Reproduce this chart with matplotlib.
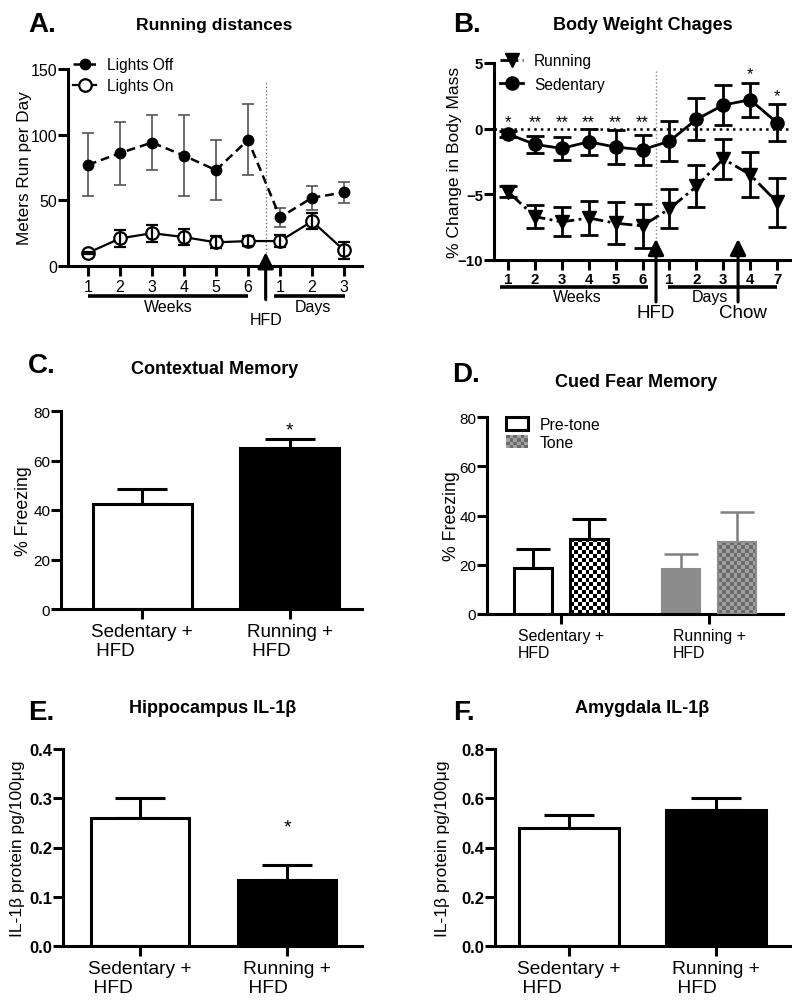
import numpy as np
import matplotlib
matplotlib.use("Agg")
import matplotlib.pyplot as plt
from matplotlib.colors import ListedColormap
from matplotlib.patches import Rectangle, Patch
from matplotlib.legend_handler import HandlerBase

plt.rcParams["font.family"] = ["Liberation Sans", "DejaVu Sans"]

# A. running distances (weeks 1-6, then days 1-3 on HFD)
a_labels = ["1", "2", "3", "4", "5", "6", "1", "2", "3"]
off_mean = [77, 86, 94, 84, 73, 96, 37, 52, 56]
off_err = [24, 24, 21, 31, 23, 27, 7, 9, 8]
on_mean = [10, 21, 25, 22, 18, 19, 19, 34, 12]
on_err = [1, 6.5, 6.5, 6, 4.5, 3.5, 4.5, 6, 6.5]

# B. body weight changes
b_labels = ["1", "2", "3", "4", "5", "6", "1", "2", "3", "4", "7"]
sed_mean = [-0.4, -1.2, -1.5, -1.0, -1.4, -1.6, -0.95, 0.7, 1.8, 2.2, 0.45]
sed_err = [0.2, 0.65, 0.85, 1.0, 1.3, 1.15, 1.5, 1.6, 1.5, 1.3, 1.4]
run_mean = [-4.8, -6.7, -7.1, -6.8, -7.2, -7.4, -6.1, -4.4, -2.3, -3.5, -5.6]
run_err = [0.4, 0.9, 1.1, 1.3, 1.6, 1.7, 1.5, 1.6, 1.5, 1.7, 1.85]
b_stars = ["*", "**", "**", "**", "**", "**", "", "", "", "*", "*"]

groups = ["Sedentary +\n HFD", "Running +\n HFD"]

# C. contextual memory
c_mean = [42.5, 65.0]
c_err = [6.0, 3.5]

# D. cued fear memory
d_groups = ["Sedentary +\nHFD", "Running +\nHFD"]
pre_mean = [18.5, 18.3]
pre_err = [7.9, 6.1]
tone_mean = [30.5, 29.3]
tone_err = [8.1, 12.2]

# E. / F. IL-1b
e_mean = [0.26, 0.135]
e_err = [0.04, 0.029]
f_mean = [0.478, 0.553]
f_err = [0.055, 0.05]

W, H = 800, 1004
fig = plt.figure(figsize=(W / 100, H / 100), dpi=100)


def axes_px(left, top, right, bottom):
    return fig.add_axes([left / W, 1 - bottom / H, (right - left) / W, (bottom - top) / H])


def style(ax, lw=2.2):
    for s in ("top", "right"):
        ax.spines[s].set_visible(False)
    for s in ("left", "bottom"):
        ax.spines[s].set_linewidth(lw)
    ax.tick_params(width=lw, length=7)
    ax.tick_params(axis="y", pad=0.8)
    ax.tick_params(axis="x", pad=2)


def header(letter, lx, lbase, title, tx, tbase, tsize=13):
    fig.text(lx / W, 1 - lbase / H, letter, fontsize=20, fontweight="bold", va="baseline")
    fig.text(tx / W, 1 - tbase / H, title, fontsize=tsize, fontweight="bold",
             ha="center", va="baseline")


def checker_bar(ax, xc, w, h, c1, c2, edge, lw, sq=4):
    x0 = xc - w / 2
    p0 = ax.transData.transform((x0, 0))
    p1 = ax.transData.transform((x0 + w, h))
    nx = max(1, int(round((p1[0] - p0[0]) / sq)))
    ny = max(1, int(round((p1[1] - p0[1]) / sq)))
    grid = np.add.outer(np.arange(ny), np.arange(nx)) % 2
    xl, yl = ax.get_xlim(), ax.get_ylim()
    ax.imshow(grid, cmap=ListedColormap([c1, c2]), extent=(x0, x0 + w, 0, h),
              origin="lower", aspect="auto", interpolation="nearest", zorder=2)
    ax.set_xlim(xl)
    ax.set_ylim(yl)
    ax.bar(xc, h, w, fill=False, edgecolor=edge, linewidth=lw, zorder=3)


class CheckerSwatch:
    def __init__(self, c1, c2):
        self.c1, self.c2 = c1, c2


class CheckerHandler(HandlerBase):
    def create_artists(self, legend, orig_handle, xdescent, ydescent, width, height,
                       fontsize, trans):
        nx, ny = 6, 4
        arts = []
        for i in range(nx):
            for j in range(ny):
                c = orig_handle.c1 if (i + j) % 2 else orig_handle.c2
                arts.append(Rectangle((-xdescent + i * width / nx, -ydescent + j * height / ny),
                                      width / nx, height / ny, facecolor=c,
                                      edgecolor="none", transform=trans))
        return arts


def star(ax, x, y, gap, size=14):
    ax.annotate("*", (x, y), xytext=(0, gap), textcoords="offset points",
                ha="center", va="baseline", fontsize=size)


# ---------------- A ----------------
axA = axes_px(68, 70, 362, 267)
style(axA)
xa = np.arange(len(a_labels))
lo, = axA.plot(xa, off_mean, marker="o", ms=7.5, color="black", ls="--", dashes=(3.5, 2),
               lw=1.8, zorder=3, label="Lights Off")
axA.errorbar(xa, off_mean, yerr=off_err, fmt="none", ecolor="#555555", elinewidth=1.2,
             capsize=4.5, capthick=1.2, zorder=2)
ln, = axA.plot(xa, on_mean, marker="o", ms=9, mfc="white", mec="black", mew=1.6,
               color="black", lw=1.6, zorder=3, label="Lights On")
axA.errorbar(xa, on_mean, yerr=on_err, fmt="none", ecolor="black", elinewidth=1.6,
             capsize=4.5, capthick=1.6, zorder=4)
axA.set_xlim(-0.625, 8.56)
axA.set_ylim(0, 150)
axA.set_yticks([0, 50, 100, 150])
axA.set_xticks(xa)
axA.set_xticklabels(a_labels)
axA.tick_params(labelsize=11.5)
axA.set_ylabel("Meters Run per Day", fontsize=12.3)
axA.yaxis.set_label_coords(-0.122, 0.5)
axA.legend(handles=[lo, ln], loc="upper left", bbox_to_anchor=(0.017, 1.06), frameon=False,
           fontsize=11.2, handlelength=1.5, handletextpad=0.7, labelspacing=0.4,
           borderpad=0, borderaxespad=0)
xt = axA.get_xaxis_transform()
axA.axvline(5.55, ymin=-0.18, ymax=0.934, clip_on=False, color="#777777", ls=":", lw=1)
axA.annotate("", xy=(5.55, 0.07), xycoords=xt, xytext=(5.55, -0.17), textcoords=xt,
             arrowprops=dict(arrowstyle="-|>,head_length=0.6,head_width=0.3", color="black",
                             lw=2.2, shrinkA=0, shrinkB=0, mutation_scale=16),
             annotation_clip=False)
axA.plot([0, 5], [-0.152, -0.152], transform=xt, clip_on=False, color="black", lw=2.6,
         solid_capstyle="butt")
axA.plot([5.81, 8.03], [-0.152, -0.152], transform=xt, clip_on=False, color="black", lw=2.6,
         solid_capstyle="butt")
axA.text(2.5, -0.228, "Weeks", transform=xt, ha="center", va="baseline", fontsize=11.5)
axA.text(7.03, -0.228, "Days", transform=xt, ha="center", va="baseline", fontsize=11.5)
axA.text(5.56, -0.294, "HFD", transform=xt, ha="center", va="baseline", fontsize=11.5)
header("A.", 28, 32, "Running distances", 214, 30, 12.6)

# ---------------- B ----------------
axB = axes_px(494, 64, 790, 261)
style(axB)
xb = np.arange(len(b_labels))
axB.axhline(0, color="black", ls=":", lw=1.8, zorder=1)
axB.axvline(5.5, ymin=0, ymax=0.97, color="#888888", ls=":", lw=1, zorder=1)
rb, = axB.plot(xb, run_mean, marker="v", ms=10, color="black", ls="-.", lw=2, zorder=3,
               label="Running")
axB.errorbar(xb, run_mean, yerr=run_err, fmt="none", ecolor="black", elinewidth=2,
             capsize=6.5, capthick=2, zorder=2)
sb, = axB.plot(xb, sed_mean, marker="o", ms=9.5, color="black", lw=2, zorder=3,
               label="Sedentary")
axB.errorbar(xb, sed_mean, yerr=sed_err, fmt="none", ecolor="black", elinewidth=2,
             capsize=6.5, capthick=2, zorder=2)
axB.set_xlim(-0.52, 10.48)
axB.set_ylim(-10, 5)
axB.set_yticks([-10, -5, 0, 5])
axB.set_xticks(xb)
axB.set_xticklabels(b_labels)
axB.tick_params(labelsize=10.8)
for lab in axB.get_xticklabels() + axB.get_yticklabels():
    lab.set_fontweight("bold")
axB.set_ylabel("% Change in Body Mass", fontsize=12.6)
axB.yaxis.set_label_coords(-0.108, 0.5)
axB.legend(handles=[rb, sb], loc="upper left", bbox_to_anchor=(0.02, 1.05), frameon=False,
           fontsize=11.2, handlelength=1.5, handletextpad=0.7, labelspacing=0.55,
           borderpad=0, borderaxespad=0)
for i, s in enumerate(b_stars):
    if not s:
        continue
    if i < 6:
        axB.annotate(s, (i, 0.2), ha="center", va="baseline", fontsize=12)
    else:
        axB.annotate(s, (i, sed_mean[i] + sed_err[i]), xytext=(0, 3.2),
                     textcoords="offset points", ha="center", va="baseline", fontsize=12)
xt = axB.get_xaxis_transform()
for xv in (5.5, 8.55):
    axB.annotate("", xy=(xv, 0.107), xycoords=xt, xytext=(xv, -0.213), textcoords=xt,
                 arrowprops=dict(arrowstyle="-|>,head_length=0.6,head_width=0.3",
                                 color="black", lw=2.2, shrinkA=0, shrinkB=0,
                                 mutation_scale=16),
                 annotation_clip=False, zorder=5)
axB.plot([-0.3, 5.2], [-0.137, -0.137], transform=xt, clip_on=False, color="black", lw=2.6,
         solid_capstyle="butt")
axB.plot([5.95, 10.0], [-0.137, -0.137], transform=xt, clip_on=False, color="black", lw=2.6,
         solid_capstyle="butt")
axB.text(2.56, -0.21, "Weeks", transform=xt, ha="center", va="baseline", fontsize=11.5)
axB.text(7.5, -0.21, "Days", transform=xt, ha="center", va="baseline", fontsize=11.5)
axB.text(5.5, -0.29, "HFD", transform=xt, ha="center", va="baseline", fontsize=13.5)
axB.text(8.74, -0.29, "Chow", transform=xt, ha="center", va="baseline", fontsize=13.5)
header("B.", 453, 32, "Body Weight Chages", 643, 30)


def two_bars(ax, means, errs, ylim, yticks, fmt, capsize, bar_w, labels, lsize):
    style(ax)
    x = np.arange(len(means))
    ax.bar(x, means, bar_w, color=["white", "black"], edgecolor="black", linewidth=2.2,
           zorder=2)
    ax.errorbar(x, means, yerr=[np.zeros(len(errs)), errs], fmt="none", ecolor="black",
                elinewidth=2.2, capsize=capsize, capthick=2.2, zorder=1)
    ax.set_ylim(*ylim)
    ax.set_yticks(yticks)
    ax.set_yticklabels([fmt.format(v) for v in yticks])
    ax.set_xticks(x)
    ax.set_xticklabels(labels, fontsize=lsize)
    for lab in ax.get_xticklabels():
        lab.set_multialignment("left")
    ax.tick_params(axis="x", pad=3)
    return x


# ---------------- C ----------------
axC = axes_px(61, 412, 362, 610)
two_bars(axC, c_mean, c_err, (0, 80), [0, 20, 40, 60, 80], "{:g}", 18, 0.67, groups, 13.5)
axC.set_xlim(-0.55, 1.49)
axC.tick_params(axis="y", labelsize=11)
axC.set_ylabel("% Freezing", fontsize=12.8)
axC.yaxis.set_label_coords(-0.096, 0.5)
star(axC, 1, c_mean[1] + c_err[1], 3.3)
header("C.", 28, 373, "Contextual Memory", 215, 374)

# ---------------- D ----------------
axD = axes_px(487, 418, 783, 615)
style(axD)
xd = np.arange(len(d_groups))
axD.set_xlim(-0.5, 1.5)
axD.set_ylim(0, 80)
bw, off = 0.257, 0.1875
gray = "#8c8c8c"
chk = ("#6a6a6a", "#a0a0a0")
axD.bar(xd[0] - off, pre_mean[0], bw, color="white", edgecolor="black", lw=2.2, zorder=2)
axD.bar(xd[1] - off, pre_mean[1], bw, color=gray, edgecolor=gray, lw=1.5, zorder=2)
checker_bar(axD, xd[0] + off, bw, tone_mean[0], "black", "white", "black", 2.2)
checker_bar(axD, xd[1] + off, bw, tone_mean[1], chk[0], chk[1], gray, 1.5)
for i, col, lw in ((0, "black", 2.2), (1, "#808080", 1.8)):
    axD.errorbar([xd[i] - off, xd[i] + off], [pre_mean[i], tone_mean[i]],
                 yerr=[[0, 0], [pre_err[i], tone_err[i]]], fmt="none", ecolor=col,
                 elinewidth=lw, capsize=12, capthick=lw, zorder=1)
axD.set_yticks([0, 20, 40, 60, 80])
axD.set_xticks(xd)
axD.set_xticklabels(d_groups, fontsize=11.4)
for lab in axD.get_xticklabels():
    lab.set_multialignment("left")
axD.tick_params(axis="y", labelsize=11)
axD.tick_params(axis="x", pad=3)
axD.set_ylabel("% Freezing", fontsize=12.8)
axD.yaxis.set_label_coords(-0.091, 0.5)
axD.legend(handles=[Patch(facecolor="white", edgecolor="black", lw=2.2),
                    CheckerSwatch(*chk)],
           labels=["Pre-tone", "Tone"], handler_map={CheckerSwatch: CheckerHandler()},
           loc="upper left", bbox_to_anchor=(0.064, 1.0), frameon=False, fontsize=11.3,
           handlelength=1.4, handleheight=0.9, handletextpad=0.75, labelspacing=0.2,
           borderpad=0, borderaxespad=0)
header("D.", 452, 382, "Cued Fear Memory", 636, 387)

# ---------------- E ----------------
axE = axes_px(63, 750, 362, 947)
two_bars(axE, e_mean, e_err, (0, 0.4), [0, 0.1, 0.2, 0.3, 0.4], "{:.1f}", 18, 0.673,
         groups, 13.8)
axE.set_xlim(-0.524, 1.51)
axE.tick_params(axis="y", labelsize=12)
for lab in axE.get_yticklabels():
    lab.set_fontweight("bold")
axE.set_ylabel("IL-1β protein pg/100μg", fontsize=12.6)
axE.yaxis.set_label_coords(-0.127, 0.5)
star(axE, 1, e_mean[1] + e_err[1], 24.5)
header("E.", 28, 720, "Hippocampus IL-1β", 213, 713)

# ---------------- F ----------------
axF = axes_px(495, 750, 790, 947)
two_bars(axF, f_mean, f_err, (0, 0.8), [0, 0.2, 0.4, 0.6, 0.8], "{:.1f}", 18, 0.68,
         groups, 13.8)
axF.set_xlim(-0.503, 1.503)
axF.tick_params(axis="y", labelsize=12)
for lab in axF.get_yticklabels():
    lab.set_fontweight("bold")
axF.set_ylabel("IL-1β protein pg/100μg", fontsize=12.6)
axF.yaxis.set_label_coords(-0.1525, 0.5)
header("F.", 453, 720, "Amygdala IL-1β", 642, 713)

fig.savefig("out.png", dpi=100)
